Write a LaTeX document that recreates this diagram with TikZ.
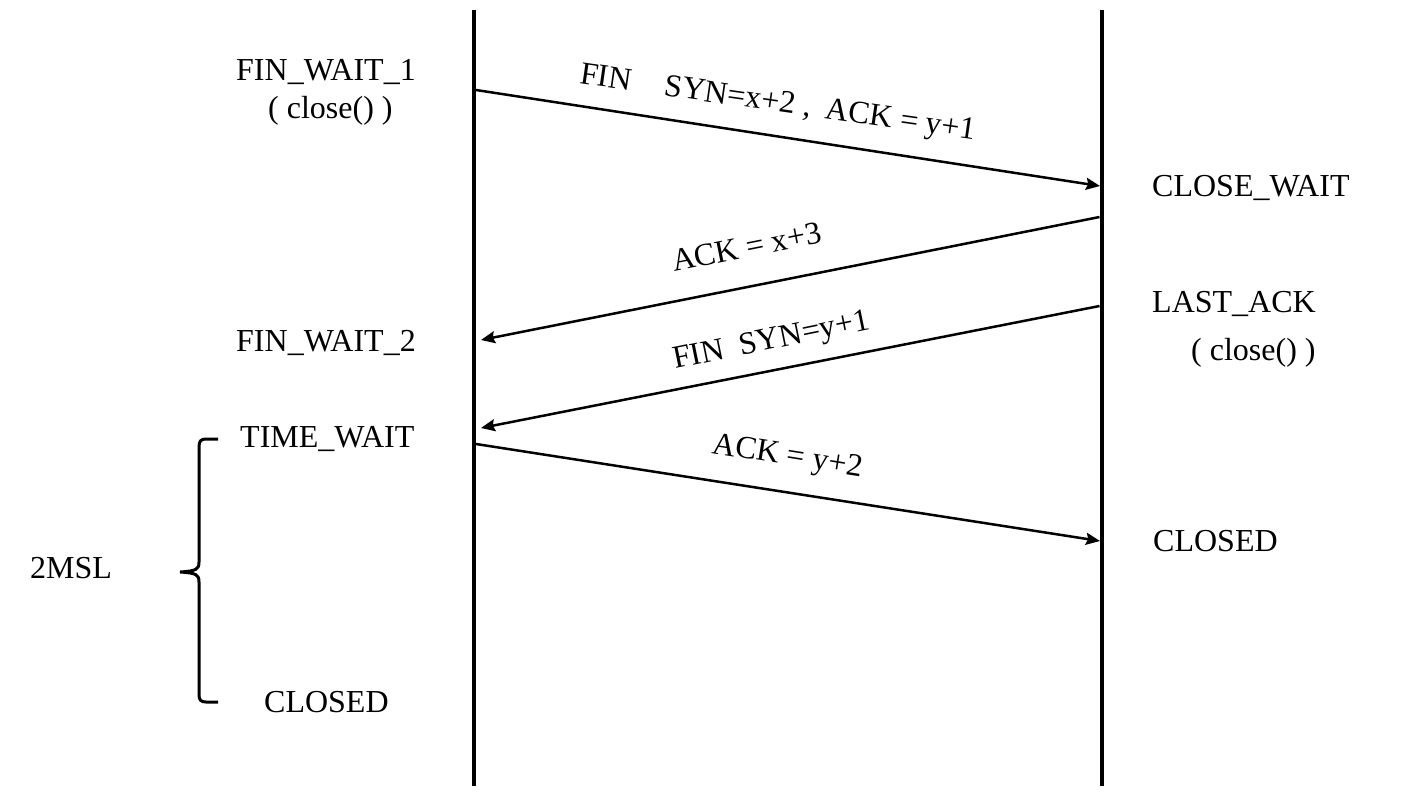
\documentclass[tikz,border=0pt]{standalone}
\usepackage{fontspec}
\setmainfont{Liberation Serif}
\usetikzlibrary{arrows.meta}
\begin{document}
\begin{tikzpicture}[x=1pt,y=-1pt,
  lbl/.style={font=\fontsize{32}{36}\selectfont, inner sep=0pt, anchor=base west},
  life/.style={line width=4pt},
  msg/.style={line width=2.5pt, -{Stealth[length=14pt,width=12pt,inset=2pt]}},
  bracestyle/.style={line width=3pt}]
\useasboundingbox[fill=white] (0,0) rectangle (1422,798);

% lifelines
\coordinate (Ltop) at (474,10);
\coordinate (Lbot) at (474,786);
\coordinate (Rtop) at (1101.5,10);
\coordinate (Rbot) at (1101.5,786);
\draw[life] (Ltop) -- (Lbot);
\draw[life] (Rtop) -- (Rbot);

% message end points
\coordinate (A1) at (476,90);
\coordinate (B1) at (1100,186);
\coordinate (B2) at (1099.5,217);
\coordinate (A2) at (481,340);
\coordinate (B3) at (1099.5,306);
\coordinate (A3) at (481,428);
\coordinate (A4) at (476,444);
\coordinate (B4) at (1100,541);

\draw[msg] (A1) -- (B1);
\draw[msg] (B2) -- (A2);
\draw[msg] (B3) -- (A3);
\draw[msg] (A4) -- (B4);

% message labels
\node[lbl, rotate=-8.2] (m1) at (579,83) {FIN\hspace{1.05em}SYN=x+2 ,\hspace{0.45em}ACK = y+1};
\node[lbl, rotate=11.3] (m2) at (674,272) {ACK = x+3};
\node[lbl, rotate=11.6] (m3) at (675,369) {FIN\ \ SYN=y+1};
\node[lbl, rotate=-9] (m4) at (711,453) {ACK = y+2};

% left states
\node[lbl] (s1) at (236,80) {FIN\_WAIT\_1};
\node[lbl] (s1b) at (268,118) {( close() )};
\node[lbl] (s2) at (236,351) {FIN\_WAIT\_2};
\node[lbl] (s3) at (240,447) {TIME\_WAIT};
\node[lbl] (s4) at (264,712) {CLOSED};
\node[lbl] (msl) at (30,578) {2MSL};

% right states
\node[lbl] (r1) at (1152,196) {CLOSE\_WAIT};
\node[lbl] (r2) at (1152,312) {LAST\_ACK};
\node[lbl] (r2b) at (1191,360) {( close() )};
\node[lbl] (r3) at (1153,551) {CLOSED};

% brace
\draw[bracestyle] (218,439) -- (206,439)
  .. controls (201,439) and (199,441) .. (199,447) -- (199,562)
  .. controls (199,569) and (197,571) .. (180,572)
  .. controls (197,573) and (199,575) .. (199,582) -- (199,695)
  .. controls (199,700) and (201,702) .. (206,702) -- (218,702);
\end{tikzpicture}
\end{document}
